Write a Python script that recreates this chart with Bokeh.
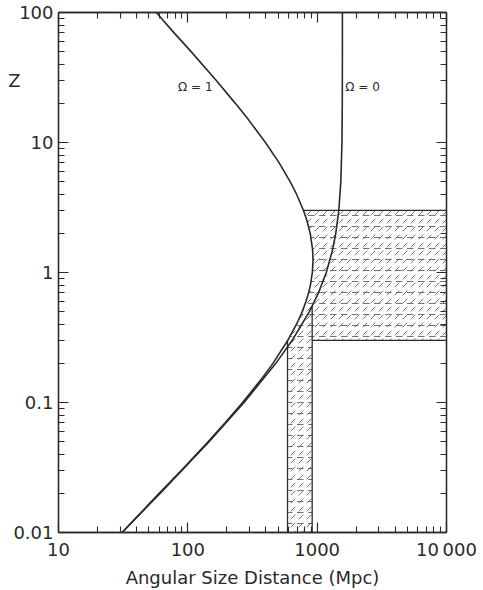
import numpy as np
from bokeh.plotting import figure
from bokeh.models import LogAxis, FixedTicker
from bokeh.embed import file_html
from bokeh.resources import INLINE
from bokeh.core.properties import value

# ---- data ----
# Omega = 1 curve: redshift z vs angular size distance (Mpc)
z_om1 = [0.01, 0.02, 0.03, 0.05, 0.07, 0.1, 0.15, 0.2, 0.3, 0.4, 0.5, 0.6, 0.7, 0.8,
         1.0, 1.25, 1.5, 2.0, 2.5, 3.0, 4.0, 5.0, 7.0, 10, 15, 20, 30, 50, 70, 100]
d_om1 = [31, 60, 89, 144, 195, 265, 368, 455, 592, 693, 767, 820, 859, 887,
         918, 929, 922, 883, 834, 784, 693, 618, 507, 398, 294, 233, 166, 106, 78, 57]

# Omega = 0 curve
z_om0 = [0.01, 0.02, 0.05, 0.1, 0.2, 0.3, 0.5, 0.7, 1.0, 1.5, 2.0, 3.0, 5.0, 10, 20, 50, 100]
d_om0 = [31, 61, 146, 272, 479, 640, 871, 1025, 1176, 1317, 1393, 1470, 1524, 1555, 1564, 1567, 1567]

# shaded regions
stripe_d = [590, 915]      # vertical stripe (Mpc)
stripe_z = [0.01, 0.3]
box_d_right = 10000
box_z = [0.3, 3]

x_ticks = [10, 100, 1000, 10000]
x_tick_labels = ["10", "100", "1000", "10\u2009000"]
y_ticks = [0.01, 0.1, 1, 10, 100]
y_tick_labels = ["0.01", "0.1", "1", "10", "100"]

labels_text = ["\u03a9 = 1", "\u03a9 = 0"]
labels_d = [84, 1650]
labels_z = [26.5, 26.5]

y_title = "Z"
y_title_z = 30

INK = "#2a2a2a"
FONT = "DejaVu Sans"

p = figure(x_axis_type="log", y_axis_type="log",
           x_range=(10, 10000), y_range=(0.01, 100),
           frame_width=388, frame_height=520,
           min_border_left=58, min_border_right=37,
           min_border_top=12, min_border_bottom=58,
           output_backend="svg", toolbar_location=None,
           background_fill_color="white", border_fill_color="white")
p.grid.visible = False
p.outline_line_color = INK
p.outline_line_width = 1.3

# shaded polygon: stripe + box bounded on the left by the Omega=1 curve
z1 = np.array(z_om1, dtype=float)
d1 = np.array(d_om1, dtype=float)
mask = (z1 >= box_z[0]) & (z1 <= box_z[1])
left_z = z1[mask][::-1]
left_d = np.maximum(d1[mask][::-1], stripe_d[0])
poly_x = [stripe_d[0], stripe_d[1], stripe_d[1], box_d_right, box_d_right] + list(left_d) + [stripe_d[0]]
poly_y = [stripe_z[0], stripe_z[0], stripe_z[1], box_z[0], box_z[1]] + list(left_z) + [box_z[0]]

for pat, sc in [("right_diagonal_dash", 8), ("horizontal_dash", 11)]:
    p.patch(poly_x, poly_y, fill_color=None, line_color=None,
            hatch_pattern=pat, hatch_scale=sc, hatch_weight=0.75, hatch_color="#444444")

# outlines of the shaded regions
p.line([stripe_d[0], stripe_d[0]], [stripe_z[0], stripe_z[1]], line_color=INK, line_width=1.3)
p.line([stripe_d[1], stripe_d[1]], [stripe_z[0], 0.55], line_color=INK, line_width=1.3)
p.line([stripe_d[1], box_d_right], [box_z[0], box_z[0]], line_color=INK, line_width=1.3)
p.line([left_d[0], box_d_right], [box_z[1], box_z[1]], line_color=INK, line_width=1.3)

# curves
p.line(d_om1, z_om1, line_color=INK, line_width=1.6)
p.line(d_om0, z_om0, line_color=INK, line_width=1.6)

p.text(x=labels_d, y=labels_z, text=labels_text, text_font=value(FONT),
       text_font_size="12px", text_color=INK, text_align="left", text_baseline="middle")

x_minor = [m * 10 ** k for k in range(1, 4) for m in range(2, 10)]
y_minor = [m * 10.0 ** k for k in range(-2, 2) for m in range(2, 10)]

def style_axis(ax, ticks, minor, labels, size="18px"):
    ax.ticker = FixedTicker(ticks=ticks, minor_ticks=minor)
    ax.axis_line_color = INK
    ax.axis_line_width = 1.3
    ax.major_tick_line_color = INK
    ax.minor_tick_line_color = INK
    ax.major_tick_line_width = 1.2
    ax.minor_tick_line_width = 1.1
    ax.major_tick_in = 10
    ax.major_tick_out = 0
    ax.minor_tick_in = 6
    ax.minor_tick_out = 0
    ax.major_label_overrides = dict(zip(ticks, labels))
    ax.major_label_text_font = FONT
    ax.major_label_text_font_size = size
    ax.major_label_text_color = INK

xb = p.xaxis[0]
style_axis(xb, x_ticks, x_minor, x_tick_labels)
xb.major_label_standoff = 6
xb.axis_label = "Angular Size Distance (Mpc)"
xb.axis_label_text_font = FONT
xb.axis_label_text_font_style = "normal"
xb.axis_label_text_font_size = "18px"
xb.axis_label_text_color = INK
xb.axis_label_standoff = 4

yl = p.yaxis[0]
style_axis(yl, y_ticks, y_minor, y_tick_labels)
yl.major_label_standoff = 5

xt = LogAxis()
style_axis(xt, x_ticks, x_minor, [""] * len(x_ticks), "1px")
xt.major_label_standoff = 0
p.add_layout(xt, "above")
yr = LogAxis()
style_axis(yr, y_ticks, y_minor, [""] * len(y_ticks), "1px")
yr.major_label_standoff = 0
p.add_layout(yr, "right")

# "Z" title drawn as the single label of an extra, line-less left axis
zt = LogAxis(ticker=FixedTicker(ticks=[y_title_z], minor_ticks=[]))
zt.major_label_overrides = {y_title_z: y_title}
zt.axis_line_color = None
zt.major_tick_line_color = None
zt.minor_tick_line_color = None
zt.major_tick_out = 0
zt.major_tick_in = 0
zt.major_label_standoff = -10
zt.major_label_text_font = FONT
zt.major_label_text_font_size = "18px"
zt.major_label_text_color = INK
p.add_layout(zt, "left")

open("out.html", "w").write(file_html(p, INLINE))
